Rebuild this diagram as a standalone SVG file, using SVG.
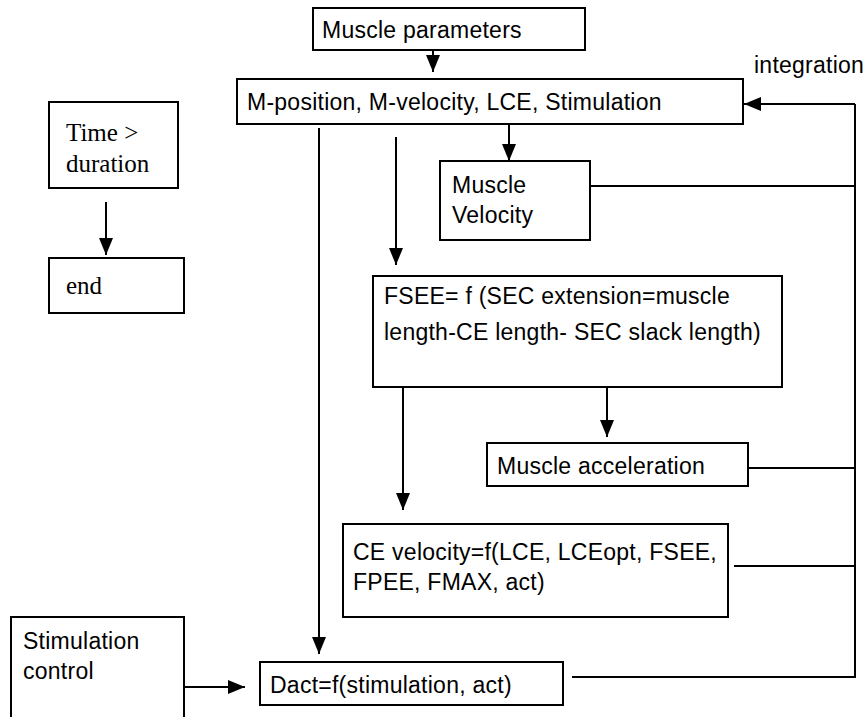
<svg xmlns="http://www.w3.org/2000/svg" width="863" height="717" viewBox="0 0 863 717">
  <style>
    .box { fill: #fff; stroke: #000; stroke-width: 2; }
    .lbl { font-family: "Liberation Sans", Arial, sans-serif; font-size: 23px; letter-spacing: 0.25px; fill: #000; }
    .serif { font-family: "Liberation Serif", "Times New Roman", serif; font-size: 25px; fill: #000; }
    .wire { fill: none; stroke: #000; stroke-width: 2; }
    .arrow { fill: none; stroke: #000; stroke-width: 2; marker-end: url(#head); }
  </style>
  <defs>
    <marker id="head" markerUnits="userSpaceOnUse" markerWidth="18" markerHeight="14" refX="17" refY="7" orient="auto">
      <path d="M0,0 L17,7 L0,14 Z" fill="#000"/>
    </marker>
  </defs>
  <rect width="863" height="717" fill="#fff"/>

  <!-- connectors -->
  <g id="connectors">
    <path class="arrow" d="M433,50 V72"/>
    <path class="arrow" d="M509,124 V161"/>
    <path class="arrow" d="M319,128 V654"/>
    <path class="arrow" d="M396,137 V265"/>
    <path class="arrow" d="M607,387 V437"/>
    <path class="arrow" d="M403,387 V510"/>
    <path class="arrow" d="M106,202 V255"/>
    <path class="arrow" d="M184,687 H245"/>
    <!-- integration feedback loop -->
    <path class="wire" d="M590,186 H855"/>
    <path class="wire" d="M748,468 H855"/>
    <path class="wire" d="M734,566 H855"/>
    <path class="wire" d="M572,677 H855 V104"/>
    <path class="arrow" d="M855,104 H744"/>
  </g>

  <g id="muscle-parameters">
    <rect class="box" x="313" y="8" width="272" height="42"/>
    <text class="lbl" x="322" y="38">Muscle parameters</text>
  </g>

  <g id="state">
    <rect class="box" x="237" y="79" width="506" height="45"/>
    <text class="lbl" x="247" y="110">M-position, M-velocity, LCE, Stimulation</text>
  </g>

  <text id="integration" class="lbl" x="754" y="73">integration</text>

  <g id="time-check">
    <rect class="box" x="49" y="102" width="129" height="86"/>
    <text class="serif" x="66" y="141">Time &gt;</text>
    <text class="serif" x="66" y="172">duration</text>
  </g>

  <g id="end">
    <rect class="box" x="49" y="258" width="135" height="55"/>
    <text class="serif" x="66" y="294">end</text>
  </g>

  <g id="muscle-velocity">
    <rect class="box" x="440" y="161" width="150" height="79"/>
    <text class="lbl" x="452" y="193">Muscle</text>
    <text class="lbl" x="452" y="223">Velocity</text>
  </g>

  <g id="fsee">
    <rect class="box" x="373" y="276" width="409" height="111"/>
    <text class="lbl" x="384" y="304">FSEE= f (SEC extension=muscle</text>
    <text class="lbl" x="384" y="340">length-CE length- SEC slack length)</text>
  </g>

  <g id="muscle-acceleration">
    <rect class="box" x="487" y="443" width="261" height="43"/>
    <text class="lbl" x="497" y="474">Muscle acceleration</text>
  </g>

  <g id="ce-velocity">
    <rect class="box" x="343" y="524" width="385" height="93"/>
    <text class="lbl" x="353" y="560">CE velocity=f(LCE, LCEopt, FSEE,</text>
    <text class="lbl" x="353" y="590">FPEE, FMAX, act)</text>
  </g>

  <g id="stimulation-control">
    <rect class="box" x="11" y="617" width="173" height="110"/>
    <text class="lbl" x="23" y="649">Stimulation</text>
    <text class="lbl" x="23" y="679">control</text>
  </g>

  <g id="dact">
    <rect class="box" x="260" y="662" width="303" height="43"/>
    <text class="lbl" x="270" y="693">Dact=f(stimulation, act)</text>
  </g>
</svg>
